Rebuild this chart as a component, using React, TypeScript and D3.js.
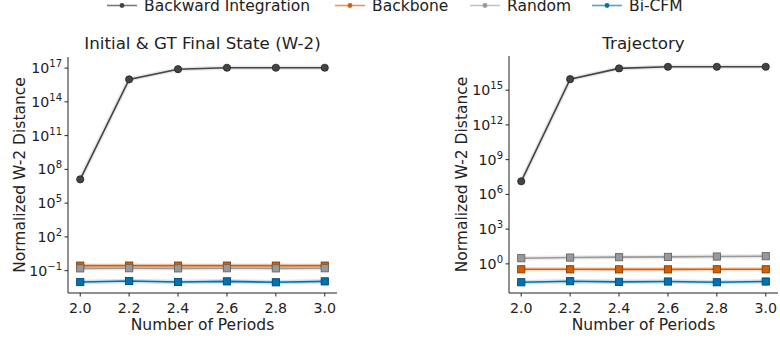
import React from "react";
import * as d3 from "d3";

const periods = [2.0, 2.2, 2.4, 2.6, 2.8, 3.0];
const xTicks = [2.0, 2.2, 2.4, 2.6, 2.8, 3.0];

const backwardInit = [1.3e7, 1.0e16, 8.0e16, 1.08e17, 1.08e17, 1.08e17];
const backboneInit = [0.28, 0.28, 0.28, 0.28, 0.28, 0.28];
const randomInit = [0.16, 0.165, 0.16, 0.165, 0.16, 0.165];
const bicfmInit = [0.0098, 0.012, 0.0099, 0.0112, 0.0093, 0.0112];

const backwardTraj = [1.35e7, 9.0e15, 7.6e16, 1.05e17, 1.05e17, 1.05e17];
const backboneTraj = [0.34, 0.34, 0.335, 0.335, 0.34, 0.34];
const randomTraj = [3.1, 3.5, 3.8, 4.0, 4.3, 4.6];
const bicfmTraj = [0.026, 0.032, 0.028, 0.030, 0.026, 0.030];

const leftTicks = [-1, 2, 5, 8, 11, 14, 17];
const rightTicks = [0, 3, 6, 9, 12, 15];

const seriesNames = ["Backward Integration", "Backbone", "Random", "Bi-CFM"];
const lineColors = ["#444444", "#d55e00", "#999999", "#0072b2"];
const edgeColors = ["#222222", "#8a3a00", "#666666", "#004a75"];
const legendLineColors = ["#7a7a7a", "#e8955a", "#c4c4c4", "#5a9fcc"];
const legendDotColors = ["#444444", "#d55e00", "#999999", "#0072b2"];

const FONT = "DejaVu Sans";

type PanelProps = {
  x0: number; x1: number; y0: number; y1: number;
  title: string; series: number[][]; ticks: number[]; ylabelX: number;
};

function Panel({ x0, x1, y0, y1, title, series, ticks, ylabelX }: PanelProps) {
  const xs = d3.scaleLinear().domain([1.95, 3.05]).range([x0, x1]);
  const all = series.flat().map((v) => Math.log10(v));
  const lo = d3.min(all)!, hi = d3.max(all)!;
  const m = (hi - lo) * 0.05;
  const ys = d3.scaleLog().domain([Math.pow(10, lo - m), Math.pow(10, hi + m)]).range([y1, y0]);
  const line = d3.line<number>().x((_, i) => xs(periods[i])).y((v) => ys(v));
  const order = [1, 2, 3, 0];
  return (
    <g>
      <text x={(x0 + x1) / 2} y={49} textAnchor="middle" fontSize={16.7} fill="#222">{title}</text>
      {order.map((si) => (
        <path key={"h" + si} d={line(series[si])!} fill="none" stroke={lineColors[si]} strokeOpacity={si === 0 ? 0.12 : 0.2} strokeWidth={4.5} />
      ))}
      {order.map((si) => (
        <g key={"s" + si}>
          <path d={line(series[si])!} fill="none" stroke={lineColors[si]} strokeWidth={1.6} />
          {series[si].map((v, i) =>
            si === 0 ? (
              <circle key={i} cx={xs(periods[i])} cy={ys(v)} r={3.6} fill="#444" stroke="#222" strokeWidth={0.8} />
            ) : (
              <rect key={i} x={xs(periods[i]) - 3.6} y={ys(v) - 3.6} width={7.2} height={7.2} fill={lineColors[si]} stroke={edgeColors[si]} strokeWidth={0.9} />
            )
          )}
        </g>
      ))}
      <line x1={x0} x2={x0} y1={y0} y2={y1} stroke="#222" strokeWidth={1} />
      <line x1={x0} x2={x1} y1={y1} y2={y1} stroke="#222" strokeWidth={1} />
      {xTicks.map((t) => (
        <g key={t}>
          <line x1={xs(t)} x2={xs(t)} y1={y1} y2={y1 + 3.5} stroke="#222" />
          <text x={xs(t)} y={313} textAnchor="middle" fontSize={14.2} fill="#222">{t.toFixed(1)}</text>
        </g>
      ))}
      {ticks.map((e) => {
        const y = ys(Math.pow(10, e));
        const s = e < 0 ? "\u2212" + Math.abs(e) : String(e);
        return (
          <g key={e}>
            <line x1={x0 - 3.5} x2={x0} y1={y} y2={y} stroke="#222" />
            <text x={x0 - 6} y={y + 5} textAnchor="end" fontSize={14.2} fill="#222">
              10<tspan fontSize={10} dy={-6}>{s}</tspan>
            </text>
          </g>
        );
      })}
      <text x={(x0 + x1) / 2} y={330} textAnchor="middle" fontSize={15.5} fill="#222">Number of Periods</text>
      <text transform={`translate(${ylabelX},${(y0 + y1) / 2}) rotate(-90)`} textAnchor="middle" fontSize={15.5} fill="#222">Normalized W-2 Distance</text>
    </g>
  );
}

export default function App() {
  const legendX = [107, 335, 470, 592];
  return (
    <svg width={780} height={342} style={{ position: "fixed", left: 0, top: 0, background: "#fff" }} fontFamily={FONT}>
      <rect width={780} height={342} fill="#fff" />
      {seriesNames.map((n, i) => (
        <g key={n}>
          <line x1={legendX[i]} x2={legendX[i] + 30} y1={5.5} y2={5.5} stroke={legendLineColors[i]} strokeWidth={1.6} />
          <circle cx={legendX[i] + 15} cy={5.5} r={2.4} fill={legendDotColors[i]} />
          <text x={legendX[i] + 37} y={11} fontSize={15.5} fill="#222">{n}</text>
        </g>
      ))}
      <Panel x0={68} x1={337} y0={57} y1={293} title="Initial & GT Final State (W-2)"
        series={[backwardInit, backboneInit, randomInit, bicfmInit]} ticks={leftTicks} ylabelX={25} />
      <Panel x0={509} x1={778} y0={56} y1={293} title="Trajectory"
        series={[backwardTraj, backboneTraj, randomTraj, bicfmTraj]} ticks={rightTicks} ylabelX={467} />
    </svg>
  );
}
